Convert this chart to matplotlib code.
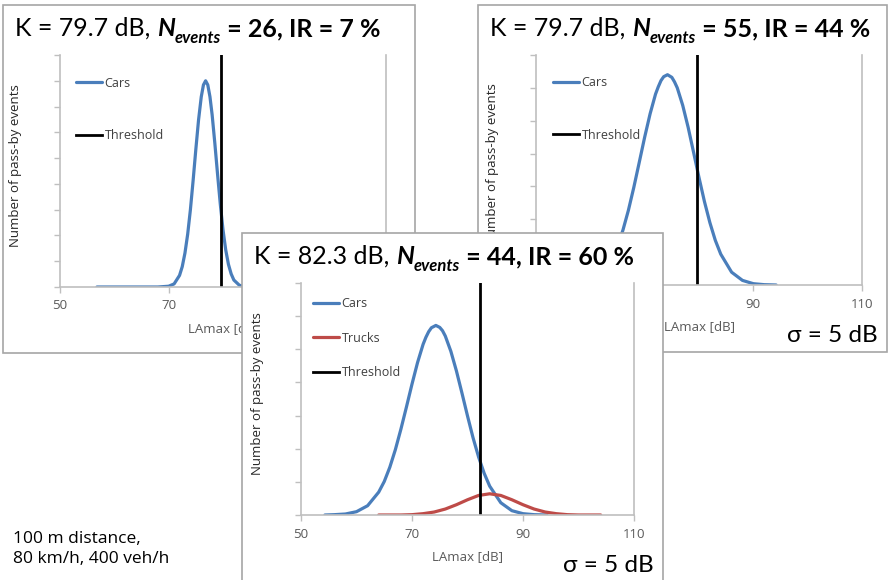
import matplotlib
matplotlib.use('Agg')
import matplotlib.pyplot as plt
from matplotlib.patches import Rectangle

# values (x = LAmax in dB, y = events in axis tick units)
cars1_x = [56.8, 60, 64, 68, 70, 71, 72, 72.5, 73, 73.5, 74, 74.5, 75, 75.5, 76, 76.4, 76.8,
           77.2, 77.6, 78, 78.5, 79, 79.5, 80, 80.5, 81, 81.5, 82, 83, 84, 86, 90, 96.8]
cars1_y = [0, 0, 0, 0, 0.03, 0.12, 0.45, 0.79, 1.32, 2.05, 3.0, 4.13, 5.34, 6.48, 7.38, 7.84, 8.0,
           7.84, 7.38, 6.68, 5.57, 4.37, 3.22, 2.22, 1.44, 0.88, 0.51, 0.27, 0.07, 0.01, 0, 0, 0]

cars2_x = [54.2, 56, 58, 60, 62, 64, 65, 66, 67, 68, 69, 70, 71, 72, 72.5, 73, 73.5, 74.2,
           75, 75.5, 76, 77, 78, 79, 80, 81, 82, 83, 84, 86, 88, 90, 92, 94.2]
cars2_y = [0, 0.01, 0.03, 0.11, 0.33, 0.80, 1.18, 1.67, 2.27, 2.97, 3.73, 4.50, 5.21, 5.81, 6.03,
           6.22, 6.34, 6.40, 6.32, 6.18, 6.00, 5.47, 4.80, 4.04, 3.27, 2.54, 1.90, 1.36, 0.94,
           0.39, 0.14, 0.04, 0.01, 0]

cars3_x = [54.3, 56, 58, 60, 62, 64, 65, 66, 67, 68, 69, 70, 71, 72, 72.5, 73, 73.5, 74.3,
           75, 75.5, 76, 77, 78, 79, 80, 81, 82, 83, 84, 86, 88, 90, 92, 94.3]
cars3_y = [0, 0.01, 0.03, 0.10, 0.28, 0.69, 1.01, 1.44, 1.97, 2.59, 3.26, 3.95, 4.60, 5.15, 5.36,
           5.53, 5.65, 5.72, 5.66, 5.56, 5.40, 4.94, 4.35, 3.68, 2.99, 2.33, 1.75, 1.26, 0.87,
           0.37, 0.13, 0.04, 0.01, 0]

trucks3_x = [64, 68, 70, 72, 74, 76, 78, 80, 82, 84, 86, 88, 90, 92, 94, 96, 98, 100, 104]
trucks3_y = [0, 0, 0.01, 0.04, 0.09, 0.18, 0.31, 0.46, 0.59, 0.64, 0.59, 0.46, 0.31, 0.18, 0.09,
             0.04, 0.01, 0, 0]

k_values = [79.7, 79.7, 82.3]
n_events = [26, 55, 44]
ir_values = [7, 44, 60]
y_tops = [9, 7, 7]
x_ticks = [50, 70, 90, 110]
footnote = "100 m distance,\n80 km/h, 400 veh/h"

BLUE = '#4a7ebb'
RED = '#be4b48'
GREY = '#bfbfbf'
TXT = '#595959'
TFONT = 'Lato'
SFONT = 'Open Sans'

W, H = 888, 580
fig = plt.figure(figsize=(W / 100, H / 100), dpi=100)


def rect(x0, y0, x1, y1):
    # pixel box (from top-left) -> figure fraction
    return [x0 / W, 1 - y1 / H, (x1 - x0) / W, (y1 - y0) / H]


def title(fax, x, y, k, n, ir):
    t = fax.text(x, y, f"K = {k} dB, ", transform=fax.transAxes, fontsize=18,
                 family=TFONT, ha='left', va='baseline')
    nn = fax.annotate("N", xy=(1, 0), xycoords=t, fontsize=18, family=TFONT,
                      weight='bold', style='italic', va='bottom')
    sub = fax.annotate("events", xy=(1, 0), xycoords=nn, xytext=(0, -4),
                       textcoords='offset points', fontsize=12, family=TFONT,
                       weight='bold', style='italic', va='bottom')
    fax.annotate(f" = {n}, IR = {ir} %", xy=(1, 0), xycoords=(sub, nn), fontsize=18,
                 family=TFONT, weight='bold', va='bottom')


def panel(frame, box, z, series, k, n, ir, ytop, leg_anchor, leg_space, sigma=None):
    fax = fig.add_axes(rect(*frame), zorder=z)
    fax.set_xlim(0, 1)
    fax.set_ylim(0, 1)
    fax.axis('off')
    fax.add_patch(Rectangle((0, 0), 1, 1, transform=fax.transAxes, facecolor='white',
                            edgecolor='#a6a6a6', lw=1.2, clip_on=False))
    fw = frame[2] - frame[0]
    fh = frame[3] - frame[1]
    title(fax, 12 / fw, 1 - 31 / fh, k, n, ir)

    ax = fig.add_axes(rect(*box), zorder=z + 1)
    ax.patch.set_alpha(0)
    for xs, ys, c, lab in series:
        ax.plot(xs, ys, color=c, lw=2.3, label=lab, solid_capstyle='round')
    ax.axvline(k, color='black', lw=2.0, label='Threshold')
    ax.set_xlim(50, 110)
    ax.set_ylim(0, ytop)
    ax.set_xticks(x_ticks)
    ax.set_yticks(range(ytop + 1))
    ax.set_yticklabels([])
    ax.tick_params(axis='both', direction='out', length=4, color=GREY, width=1,
                   labelsize=9.5, labelcolor=TXT, pad=5)
    for lab in ax.get_xticklabels():
        lab.set_family(SFONT)
    ax.spines['top'].set_visible(False)
    for s in ('left', 'bottom', 'right'):
        ax.spines[s].set_color(GREY)
        ax.spines[s].set_linewidth(1.2)
    bw = box[2] - box[0]
    bh = box[3] - box[1]
    ax.text(-44 / bw, 0.5 + 5 / bh, "Number of pass-by events", transform=ax.transAxes,
            rotation=90, ha='center', va='center', fontsize=9.5, family=SFONT, color='#262626')
    ax.text(0.5, -42 / bh, "LAmax [dB]", transform=ax.transAxes, ha='center', va='center',
            fontsize=9.5, family=SFONT, color=TXT)
    leg = ax.legend(loc='upper left', bbox_to_anchor=leg_anchor, frameon=False,
                    borderpad=0, borderaxespad=0, handlelength=2.1, handletextpad=0.2,
                    labelspacing=leg_space, prop={'family': SFONT, 'size': 9})
    for t in leg.get_texts():
        t.set_color('#404040')
    if sigma is not None:
        fax.text(1 - 9 / fw, 1 - (sigma - frame[1]) / fh, "σ = 5 dB", transform=fax.transAxes,
                 ha='right', va='center', fontsize=17.5, family=[TFONT, 'Liberation Serif'])
    return fax, ax


panel((3, 5, 415, 353), (60, 55, 386, 287), 1, [(cars1_x, cars1_y, BLUE, 'Cars')],
      k_values[0], n_events[0], ir_values[0], y_tops[0], (0.049, 0.907), 3.15)
panel((478, 5, 887, 352), (536, 55, 862, 285), 3, [(cars2_x, cars2_y, BLUE, 'Cars')],
      k_values[1], n_events[1], ir_values[1], y_tops[1], (0.052, 0.907), 3.15, sigma=335)
panel((242, 233, 663, 585), (301, 283, 634, 515), 5,
      [(cars3_x, cars3_y, BLUE, 'Cars'), (trucks3_x, trucks3_y, RED, 'Trucks')],
      k_values[2], n_events[2], ir_values[2], y_tops[2], (0.036, 0.939), 1.73, sigma=565)

fig.text(13 / W, 1 - 549 / H, footnote, ha='left', va='center', fontsize=12.5, family=SFONT,
         linespacing=1.3, zorder=0)

fig.savefig('out.png', dpi=100, facecolor='white')
